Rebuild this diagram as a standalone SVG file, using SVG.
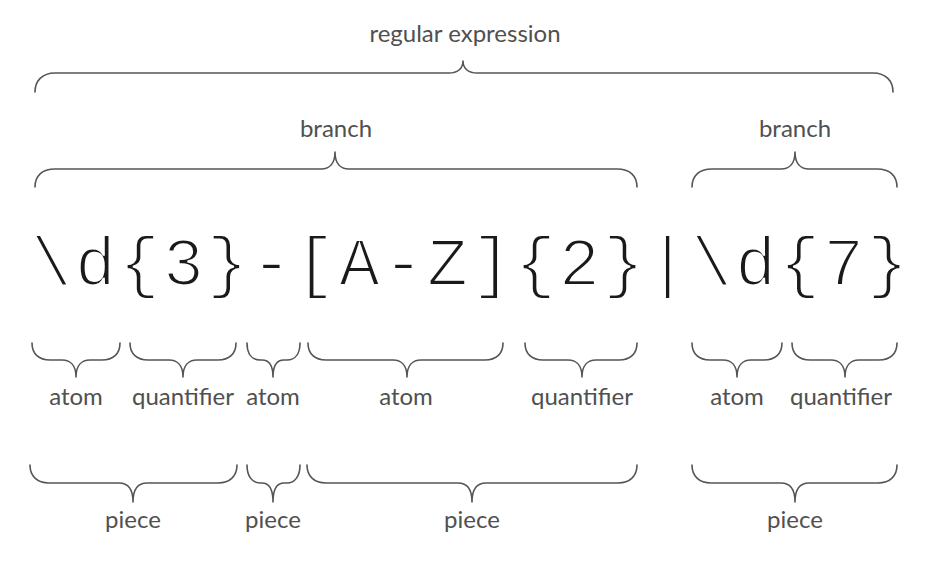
<svg xmlns="http://www.w3.org/2000/svg" width="934" height="569" viewBox="0 0 934 569">
<style>
.br{fill:none;stroke:#555;stroke-width:1.6;stroke-linejoin:round;stroke-linecap:round}
.lb{font-family:Lato,"Open Sans","Liberation Sans",sans-serif;font-size:24px;fill:#505050;text-anchor:middle}
.rx{font-family:"Liberation Mono","DejaVu Sans Mono",monospace;font-size:68px;fill:#1a1a1a;stroke:#fff;stroke-width:2.2;paint-order:fill}
</style>
<rect width="934" height="569" fill="#fff"/>
<g id="regex"><text class="rx" x="31" y="285" textLength="877" lengthAdjust="spacing">\d{3}-[A-Z]{2}|\d{7}</text></g>
<g id="connectors">
<path class="br" d="M35,92 C35,81 42,73 55,73 L449,73 C457,73 463,69 463,61 C463,69 469,73 477,73 L873,73 C886,73 893,81 893,92"/>
<path class="br" d="M35,187 C35,176 42,169 55,169 L321,169 C329,169 335,164 335,152 C335,164 341,169 349,169 L617,169 C630,169 637,176 637,187"/>
<path class="br" d="M692,187 C692,176 699,169 712,169 L781,169 C789,169 795,164 795,152 C795,164 801,169 809,169 L877,169 C890,169 897,176 897,187"/>
<path class="br" d="M32,343 C32,354 39,360 50,360 L62,360 C70,360 76,365 76,377 C76,365 82,360 90,360 L102,360 C113,360 120,354 120,343"/>
<path class="br" d="M130,343 C130,354 137,360 148,360 L169,360 C177,360 183,365 183,377 C183,365 189,360 197,360 L218,360 C229,360 236,354 236,343"/>
<path class="br" d="M247,343 C247,354 252,360 260,360 L262,360 C269,360 273,365 273,377 C273,365 277,360 284,360 L287,360 C295,360 300,354 300,343"/>
<path class="br" d="M308,343 C308,354 315,360 326,360 L393,360 C401,360 407,365 407,377 C407,365 413,360 421,360 L485,360 C496,360 503,354 503,343"/>
<path class="br" d="M525,343 C525,354 532,360 543,360 L568,360 C576,360 582,365 582,377 C582,365 588,360 596,360 L619,360 C630,360 637,354 637,343"/>
<path class="br" d="M692,343 C692,354 699,360 710,360 L723,360 C731,360 737,365 737,377 C737,365 743,360 751,360 L764,360 C775,360 782,354 782,343"/>
<path class="br" d="M792,343 C792,354 799,360 810,360 L831,360 C839,360 845,365 845,377 C845,365 851,360 859,360 L879,360 C890,360 897,354 897,343"/>
<path class="br" d="M30,465 C30,476 37,483 49,483 L119,483 C127,483 133,488 133,502 C133,488 139,483 147,483 L218,483 C230,483 237,476 237,465"/>
<path class="br" d="M247,465 C247,476 252,483 260,483 L262,483 C269,483 273,488 273,502 C273,488 277,483 284,483 L287,483 C295,483 300,476 300,465"/>
<path class="br" d="M307,465 C307,476 314,483 326,483 L458,483 C466,483 472,488 472,502 C472,488 478,483 486,483 L618,483 C630,483 637,476 637,465"/>
<path class="br" d="M692,465 C692,476 699,483 711,483 L781,483 C789,483 795,488 795,502 C795,488 801,483 809,483 L878,483 C890,483 897,476 897,465"/>
</g>
<g id="label-regular-expression"><text class="lb" x="465" y="42">regular expression</text></g>
<g id="label-branch-1"><text class="lb" x="336" y="137">branch</text></g>
<g id="label-branch-2"><text class="lb" x="795" y="137">branch</text></g>
<g id="label-atom-1"><text class="lb" x="76" y="405">atom</text></g>
<g id="label-quantifier-1"><text class="lb" x="183" y="405">quantifier</text></g>
<g id="label-atom-2"><text class="lb" x="273" y="405">atom</text></g>
<g id="label-atom-3"><text class="lb" x="406" y="405">atom</text></g>
<g id="label-quantifier-2"><text class="lb" x="582" y="405">quantifier</text></g>
<g id="label-atom-4"><text class="lb" x="737" y="405">atom</text></g>
<g id="label-quantifier-3"><text class="lb" x="841" y="405">quantifier</text></g>
<g id="label-piece-1"><text class="lb" x="133" y="528">piece</text></g>
<g id="label-piece-2"><text class="lb" x="273" y="528">piece</text></g>
<g id="label-piece-3"><text class="lb" x="472" y="528">piece</text></g>
<g id="label-piece-4"><text class="lb" x="795" y="528">piece</text></g>
</svg>
